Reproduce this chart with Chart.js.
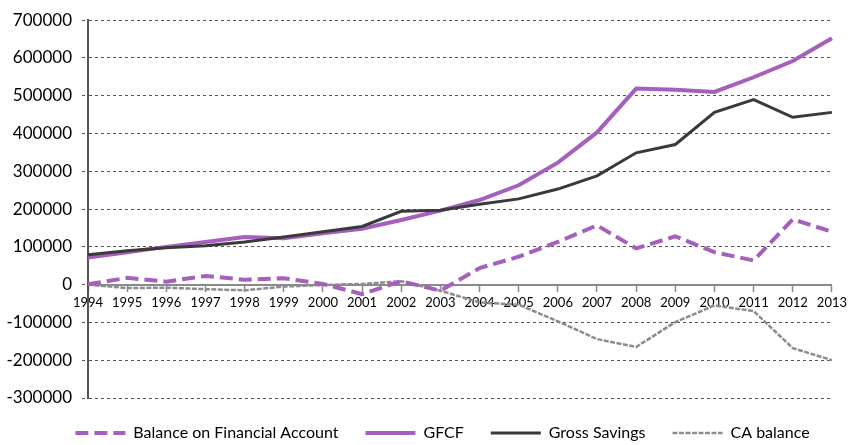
<!DOCTYPE html>
<html>
<head>
<meta charset="utf-8">
<script src="https://cdn.jsdelivr.net/npm/chart.js@4.4.1/dist/chart.umd.min.js"></script>
<style>
  html, body { margin: 0; padding: 0; background: #fff; }
  #wrap { width: 851px; height: 445px; }
</style>
</head>
<body>
<div id="wrap"><canvas id="chartCanvas"></canvas></div>
<script>
const years = ['1994', '1995', '1996', '1997', '1998', '1999', '2000', '2001', '2002', '2003',
    '2004', '2005', '2006', '2007', '2008', '2009', '2010', '2011', '2012', '2013'];

const balanceFinancialAccount = [1000, 18000, 8000, 23000, 13000, 17000, 2000, -25000, 9000, -16000,
    44000, 74000, 113000, 157000, 96000, 128000, 86000, 64000, 173000, 140000];
const gfcf = [72000, 86000, 100000, 113000, 126000, 123000, 136000, 148000, 171000, 196000,
    224000, 263000, 323000, 403000, 519000, 516000, 510000, 549000, 592000, 652000];
const grossSavings = [79000, 90000, 98000, 103000, 113000, 126000, 140000, 154000, 194000, 197000,
    213000, 227000, 253000, 288000, 349000, 371000, 456000, 490000, 443000, 456000];
const caBalance = [0, -9000, -8000, -12000, -15000, -5000, -1000, 2000, 9000, -16000,
    -47000, -53000, -97000, -144000, -165000, -99000, -55000, -70000, -168000, -200000];

const yTicks = { min: -300000, max: 700000, step: 100000 };

const purple = '#a55fbd';

let chart = null;

// the original legend sits a little right of centre
const shiftLegend = {
    id: 'shiftLegend',
    afterLayout: function (chart) {
        if (chart.legend) {
            chart.legend.left += 26;
            chart.legend.right += 26;
        }
    }
};

function renderChart() {
    const ctx = document.getElementById('chartCanvas');
    if (!ctx) return;

    if (chart) {
        chart.destroy();
    }

    chart = new Chart(ctx, {
        type: 'line',
        data: {
            labels: years,
            datasets: [
                {
                    label: 'Balance on Financial Account',
                    data: balanceFinancialAccount,
                    borderColor: purple,
                    borderWidth: 4,
                    borderDash: [13, 6],
                    order: 3
                },
                {
                    label: 'GFCF',
                    data: gfcf,
                    borderColor: purple,
                    borderWidth: 4,
                    order: 2
                },
                {
                    label: 'Gross Savings',
                    data: grossSavings,
                    borderColor: '#3a3a3a',
                    borderWidth: 3,
                    order: 1
                },
                {
                    label: 'CA balance',
                    data: caBalance,
                    borderColor: '#8c8c8c',
                    borderWidth: 2.5,
                    borderDash: [5, 1.5],
                    order: 4
                }
            ]
        },
        options: {
            responsive: true,
            maintainAspectRatio: false,
            animation: false,
            elements: {
                point: { radius: 0, hoverRadius: 0 },
                line: { tension: 0, fill: false }
            },
            layout: {
                padding: { left: 0, right: 18, top: 8, bottom: -6 }
            },
            scales: {
                x: {
                    position: { y: 0 },
                    offset: false,
                    border: { display: true, color: '#8a8a8a', width: 2 },
                    grid: {
                        display: true,
                        drawOnChartArea: false,
                        drawTicks: true,
                        tickLength: 6,
                        tickColor: '#8a8a8a',
                        tickWidth: 1.5
                    },
                    ticks: {
                        autoSkip: false,
                        maxRotation: 0,
                        padding: 4,
                        color: '#000',
                        font: { family: 'Lato', size: 13 }
                    }
                },
                y: {
                    min: yTicks.min,
                    max: yTicks.max,
                    afterFit: function (scale) {
                        // keep the plot's left edge where the original axis sits
                        scale.width = 88;
                    },
                    border: { display: true, color: '#555', width: 2, dash: [3, 3] },
                    grid: {
                        color: '#555',
                        lineWidth: 1,
                        tickLength: 6,
                        tickBorderDash: [3, 3]
                    },
                    ticks: {
                        stepSize: yTicks.step,
                        padding: 10,
                        color: '#000',
                        font: { family: 'Lato', size: 17 },
                        callback: function (value) {
                            return String(value);
                        }
                    }
                }
            },
            plugins: {
                tooltip: { enabled: false },
                legend: {
                    position: 'bottom',
                    labels: {
                        usePointStyle: true,
                        pointStyleWidth: 50,
                        padding: 27,
                        color: '#000',
                        font: { family: 'Lato', size: 16 },
                        generateLabels: function (chart) {
                            return chart.data.datasets.map(function (ds, i) {
                                return {
                                    text: ds.label,
                                    fillStyle: ds.borderColor,
                                    strokeStyle: ds.borderColor,
                                    lineWidth: ds.borderWidth,
                                    lineDash: ds.borderDash || [],
                                    pointStyle: 'line',
                                    fontColor: '#000',
                                    hidden: false,
                                    datasetIndex: i
                                };
                            });
                        }
                    }
                }
            }
        },
        plugins: [shiftLegend]
    });
}

renderChart();
</script>
</body>
</html>
